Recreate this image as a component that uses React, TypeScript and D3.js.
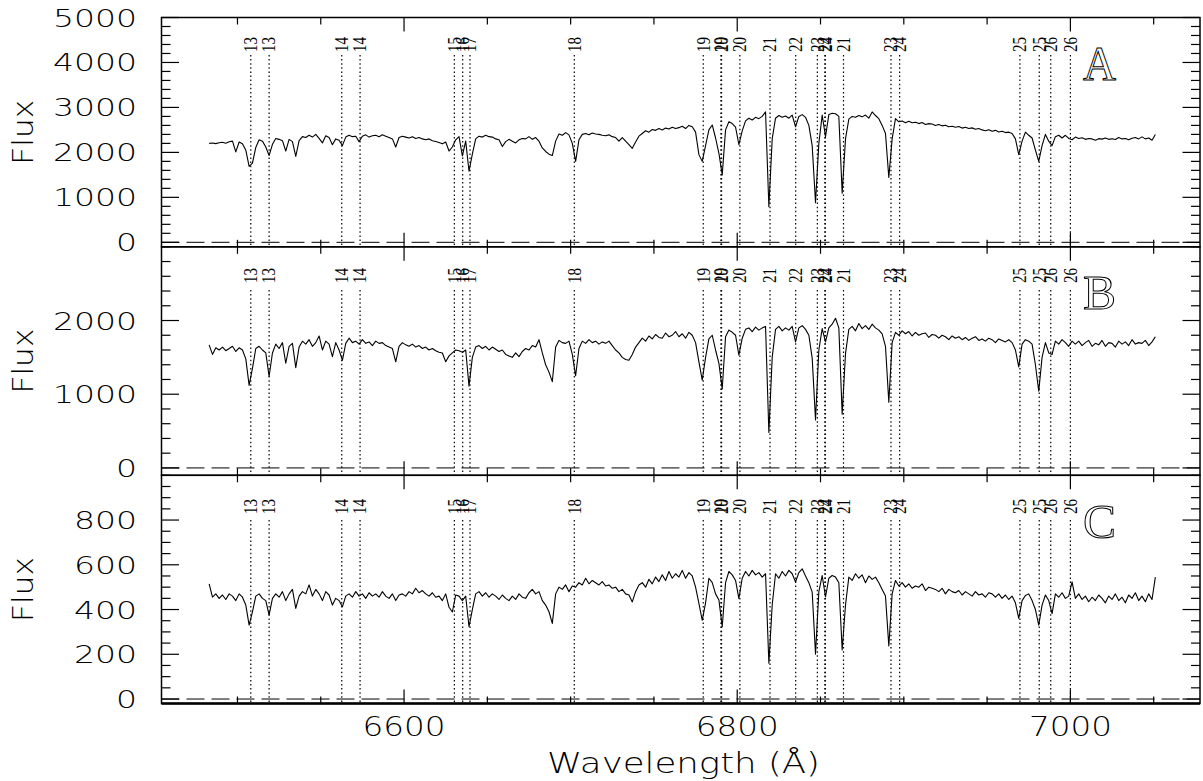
import React from "react";
import * as d3 from "d3";

// Spectrum sampling: first wavelength and step (Angstrom)
const WL_START = 6483;
const WL_STEP = 2;

// Panel A flux (rows of 10 samples, 20 A per row)
const fluxA = [
  2200, 2210, 2195, 2215, 2225, 2205, 2235, 2250, 2010, 2230,
  2190, 2050, 1690, 1760, 2110, 2280, 2250, 2120, 1930, 2180,
  2310, 2290, 2260, 2030, 2290, 2240, 1910, 2260, 2350, 2330,
  2380, 2340, 2400, 2310, 2210, 2370, 2330, 2170, 2300, 2270,
  2150, 2340, 2380, 2350, 2360, 2240, 2360, 2390, 2340, 2370,
  2380, 2350, 2390, 2360, 2330, 2300, 2120, 2330, 2360, 2340,
  2320, 2350, 2310, 2330, 2300, 2280, 2300, 2260, 2240, 2220,
  2190, 2230, 2030, 2120, 2280, 2350, 1920, 2250, 1580, 1960,
  2300, 2360, 2340, 2380, 2350, 2340, 2300, 2280, 2130, 2240,
  2290, 2250, 2210, 2280, 2310, 2300, 2350, 2290, 2330, 2250,
  2100, 2020, 1960, 1930, 2250, 2410, 2380, 2440, 2390, 2200,
  1800, 2280, 2400, 2420, 2390, 2430, 2410, 2400, 2380, 2370,
  2390, 2350, 2330, 2250, 2330, 2250, 2170, 2090, 2230, 2360,
  2420, 2480, 2450, 2510, 2490, 2530, 2500, 2540, 2520, 2560,
  2530, 2550, 2580, 2530, 2600, 2570, 2450, 1950, 1800, 2150,
  2500, 2610, 2320, 1980, 1500, 2500, 2680, 2640, 2560, 2170,
  2480, 2700, 2760, 2720, 2780, 2750, 2800, 2900, 790, 2300,
  2760, 2820, 2780, 2810, 2760, 2830, 2570, 2800, 2840, 2780,
  2600, 2150, 880, 2200, 2830, 2350, 2840, 2870, 2860, 2800,
  1090, 2300, 2740, 2800, 2780, 2820, 2790, 2830, 2760, 2900,
  2820, 2750, 2600, 2420, 1440, 2300, 2750, 2680, 2700, 2660,
  2690, 2660, 2670, 2640, 2665, 2620, 2640, 2630, 2600, 2620,
  2590, 2605, 2570, 2580, 2560, 2575, 2540, 2560, 2530, 2545,
  2515, 2530, 2500, 2480, 2505, 2470, 2490, 2455, 2470, 2440,
  2450, 2420, 2300, 1950, 2250, 2450, 2380, 2320, 2050, 1800,
  2150, 2400, 2250, 2150, 2350, 2380, 2320, 2380, 2310, 2280,
  2340, 2310, 2325, 2290, 2310, 2300, 2270, 2305, 2295, 2320,
  2290, 2305, 2285, 2330, 2300, 2310, 2280, 2315, 2330, 2300,
  2345, 2300, 2320, 2270, 2400,
];

// Panel B flux
const fluxB = [
  1670, 1540, 1630, 1600, 1640, 1590, 1620, 1650, 1580, 1630,
  1600, 1480, 1120, 1350, 1620, 1650, 1600, 1560, 1240, 1560,
  1680, 1620, 1700, 1420, 1650, 1690, 1360, 1640, 1720, 1680,
  1740, 1650, 1700, 1790, 1600, 1720, 1680, 1510, 1700, 1600,
  1460, 1690, 1760, 1700, 1720, 1680, 1740, 1690, 1710, 1660,
  1720, 1690, 1700, 1660, 1640, 1620, 1440, 1650, 1700, 1670,
  1650, 1680, 1640, 1660, 1620, 1640, 1600, 1620, 1590, 1570,
  1560, 1440, 1520, 1560, 1600, 1590, 1570, 1600, 1110, 1500,
  1640, 1660, 1620, 1650, 1600, 1640, 1610, 1580, 1600, 1540,
  1520, 1500, 1560, 1510, 1580, 1620, 1600, 1660, 1640, 1740,
  1560, 1400, 1300, 1170, 1640, 1730, 1700, 1690, 1720, 1540,
  1250, 1620, 1720, 1690, 1740, 1700, 1720, 1680, 1710, 1690,
  1720, 1660, 1600, 1560, 1500, 1470, 1460, 1540, 1640, 1700,
  1760, 1720, 1790, 1750, 1810, 1770, 1760, 1830, 1780, 1800,
  1850, 1780, 1820, 1760, 1840, 1800, 1700, 1440, 1190, 1500,
  1750, 1800, 1600, 1420, 1070, 1780, 1870, 1840, 1800, 1530,
  1760, 1880, 1900, 1850, 1910, 1870, 1900, 1920, 480, 1500,
  1880, 1920, 1860, 1900, 1870, 1920, 1710, 1900, 1930, 1880,
  1800, 1490, 650, 1600, 1890, 1710, 1900, 1950, 2030, 1900,
  730, 1550, 1880, 1920, 1860, 1960, 1890, 1930, 1880, 1950,
  1900, 1870, 1820, 1650, 890, 1700, 1840, 1800, 1860, 1820,
  1850, 1790, 1840, 1800, 1820, 1830, 1770, 1810, 1800, 1760,
  1800, 1780, 1740, 1790, 1760, 1780, 1740, 1770, 1730, 1760,
  1780, 1730, 1750, 1720, 1760, 1740, 1700, 1750, 1730, 1710,
  1740, 1700, 1600, 1370, 1680, 1740, 1720, 1680, 1400, 1040,
  1500, 1700, 1560, 1540, 1720, 1680, 1740, 1700, 1650, 1720,
  1680, 1720, 1660, 1700, 1730, 1650, 1690, 1670, 1730, 1650,
  1700, 1690, 1640, 1720, 1680, 1710, 1660, 1740, 1680, 1700,
  1690, 1730, 1660, 1710, 1780,
];

// Panel C flux
const fluxC = [
  515, 455, 470, 450, 465, 445, 470, 460, 440, 470,
  455, 420, 330, 390, 460, 470, 450, 440, 375, 450,
  470, 455, 480, 440, 470, 490, 405, 460, 480, 470,
  510, 460, 490, 470, 440, 480, 465, 420, 450, 440,
  412, 460, 470, 455, 480, 460, 470, 450, 475, 460,
  470, 455, 480, 460, 450, 470, 440, 465, 470, 460,
  480, 470, 495, 475, 485, 470, 460, 475, 455, 460,
  440, 470, 410, 389, 465, 460, 440, 460, 323, 400,
  470, 480, 460, 475, 455, 470, 460, 445, 465, 450,
  440, 460, 445, 470, 455, 450, 475, 490, 470, 480,
  440, 420, 390, 338, 470, 500, 490, 510, 480, 505,
  500, 520, 510, 540, 515, 530, 520, 510, 525, 505,
  510, 495, 500, 480, 490, 470, 465, 434, 480, 510,
  520, 500, 535, 515, 545, 525, 555, 530, 570, 540,
  560, 545, 575, 540, 565, 550, 500, 428, 352, 430,
  540, 520, 470, 443, 323, 520, 570, 555, 530, 449,
  540, 570, 550, 575, 555, 565, 545, 560, 160, 420,
  560, 540, 570, 550, 575, 560, 523, 565, 582, 550,
  520, 478, 200, 480, 552, 456, 540, 552, 545, 520,
  219, 420, 545, 530, 560, 540, 555, 520, 550, 535,
  545, 520, 490, 460, 237, 470, 530, 505, 520, 500,
  515, 495, 505, 500, 515, 485, 500, 495, 490, 480,
  495, 470, 490, 480, 475, 485, 465, 480, 470, 460,
  480, 465, 470, 455, 475, 470, 455, 470, 450, 465,
  445, 460, 430, 360, 440, 463, 470, 440, 400, 330,
  420, 465, 440, 382, 470, 455, 475, 450, 460, 524,
  450, 470, 445, 460, 435, 455, 440, 465, 450, 430,
  460, 445, 470, 440, 455, 430, 465, 450, 475, 440,
  460, 435, 470, 445, 545,
];

// Marked features (wavelength, label)
const featureWl = [
  6508.0, 6519.0, 6562.6, 6573.6, 6630.2, 6635.2, 6639.6, 6702.2,
  6779.6, 6790.2, 6790.6, 6801.6, 6819.7, 6835.1, 6848.1, 6852.6, 6852.9,
  6863.8, 6892.3, 6897.5, 6969.7, 6981.3, 6988.2, 7000.0,
];
const featureLabel = [
  "13", "13", "14", "14", "15", "16", "17", "18",
  "19", "19", "20", "20", "21", "22", "23", "22", "24",
  "21", "23", "24", "25", "25", "26", "26",
];

const panelNames = ["A", "B", "C"];
const yTicksA = [0, 1000, 2000, 3000, 4000, 5000];
const yTicksB = [0, 1000, 2000];
const yTicksC = [0, 200, 400, 600, 800];
const xTickLabels = [6600, 6800, 7000];

const FONT = "'Liberation Serif', serif";
const AXFONT = "'DejaVu Sans', sans-serif";
const AXW = 200;
const X0 = 161.5;
const X1 = 1200;
const xScale = d3.scaleLinear().domain([6454.4, 7077.8]).range([X0, X1]);

const panelCfg = [
  { flux: fluxA, top: 17.5, bottom: 246.8, dom: [-100, 5000], ticks: yTicksA, minor: 200, labelBottom: 52, dotTop: 55 },
  { flux: fluxB, top: 246.8, bottom: 475.3, dom: [-100, 3000], ticks: yTicksB, minor: 200, labelBottom: 283, dotTop: 290 },
  { flux: fluxC, top: 475.3, bottom: 703.5, dom: [-20, 1000], ticks: yTicksC, minor: 50, labelBottom: 514, dotTop: 520 },
];

const xMinor = d3.range(6500, 7051, 50);

function Panel({ cfg, name }: { cfg: any; name: string }) {
  const y = d3.scaleLinear().domain(cfg.dom).range([cfg.bottom, cfg.top]);
  const line = d3
    .line<number>()
    .x((_, i) => xScale(WL_START + i * WL_STEP))
    .y((d) => y(d));
  const minorTicks = d3.range(Math.ceil(cfg.dom[0] / cfg.minor) * cfg.minor, cfg.dom[1] + 0.001, cfg.minor);
  const isMajorY = (v: number) => cfg.ticks.includes(v);
  const isMajorX = (v: number) => xTickLabels.includes(v);
  const midY = (cfg.top + cfg.bottom) / 2;
  return (
    <g>
      <line x1={X0} x2={X1} y1={y(0)} y2={y(0)} stroke="#000" strokeWidth={1} strokeDasharray="18,7" />
      {featureWl.map((w, i) => (
        <line key={"d" + i} x1={xScale(w)} x2={xScale(w)} y1={cfg.dotTop} y2={cfg.bottom} stroke="#000" strokeWidth={1.2} strokeDasharray="1.5,2.6" />
      ))}
      {featureWl.map((w, i) => (
        <text
          key={"l" + i}
          transform={`translate(${xScale(w) + 6.3},${cfg.labelBottom}) rotate(-90)`}
          fontFamily={FONT}
          fontSize={19}
          textLength={15}
          lengthAdjust="spacingAndGlyphs"
          fill="#000"
        >
          {featureLabel[i]}
        </text>
      ))}
      <path d={line(cfg.flux) || ""} fill="none" stroke="#000" strokeWidth={1.1} strokeLinejoin="round" />
      {xMinor.map((v) => {
        const len = isMajorX(v) ? 14 : 7;
        const xx = xScale(v);
        return (
          <g key={"xt" + v}>
            <line x1={xx} x2={xx} y1={cfg.top} y2={cfg.top + len} stroke="#000" strokeWidth={1.2} />
            <line x1={xx} x2={xx} y1={cfg.bottom} y2={cfg.bottom - len} stroke="#000" strokeWidth={1.2} />
          </g>
        );
      })}
      {minorTicks.map((v: number) => {
        const len = isMajorY(v) ? 17.5 : 9;
        const yy = y(v);
        return (
          <g key={"yt" + v}>
            <line x1={X0} x2={X0 + len} y1={yy} y2={yy} stroke="#000" strokeWidth={1.2} />
            <line x1={X1} x2={X1 - len} y1={yy} y2={yy} stroke="#000" strokeWidth={1.2} />
          </g>
        );
      })}
      {cfg.ticks.map((v: number) => (
        <text
          key={"yl" + v}
          x={137}
          y={y(v) + 9}
          textAnchor="end"
          fontFamily={AXFONT}
          fontWeight={AXW}
          fontSize={25}
          textLength={21 * String(v).length}
          lengthAdjust="spacingAndGlyphs"
          fill="#000"
        >
          {v}
        </text>
      ))}
      <text
        transform={`translate(33,${midY}) rotate(-90)`}
        textAnchor="middle"
        fontFamily={AXFONT}
        fontWeight={AXW}
        fontSize={29}
        textLength={65}
        lengthAdjust="spacingAndGlyphs"
        fill="#000"
      >
        Flux
      </text>
      <text
        x={1083}
        y={cfg.top + 62.5}
        fontFamily={FONT}
        fontSize={48}
        textLength={33}
        lengthAdjust="spacingAndGlyphs"
        fill="#fff"
        stroke="#000"
        strokeWidth={1}
      >
        {name}
      </text>
      <rect x={X0} y={cfg.top} width={X1 - X0} height={cfg.bottom - cfg.top} fill="none" stroke="#000" strokeWidth={1.5} />
    </g>
  );
}

export default function App() {
  return (
    <svg width={1203} height={781} viewBox="0 0 1203 781" style={{ position: "absolute", left: 0, top: 0, background: "#fff" }}>
      <rect x={0} y={0} width={1203} height={781} fill="#fff" />
      {panelCfg.map((cfg, i) => (
        <Panel key={i} cfg={cfg} name={panelNames[i]} />
      ))}
      <line x1={X0} x2={X1} y1={703.5} y2={703.5} stroke="#000" strokeWidth={2.5} />
      {xTickLabels.map((v) => (
        <text
          key={"xl" + v}
          x={xScale(v)}
          y={736}
          textAnchor="middle"
          fontFamily={AXFONT}
          fontWeight={AXW}
          fontSize={26}
          textLength={83}
          lengthAdjust="spacingAndGlyphs"
          fill="#000"
        >
          {v}
        </text>
      ))}
      <text
        x={683.5}
        y={773}
        textAnchor="middle"
        fontFamily={AXFONT}
        fontWeight={AXW}
        fontSize={29}
        textLength={273}
        lengthAdjust="spacingAndGlyphs"
        fill="#000"
      >
        Wavelength (Å)
      </text>
    </svg>
  );
}
